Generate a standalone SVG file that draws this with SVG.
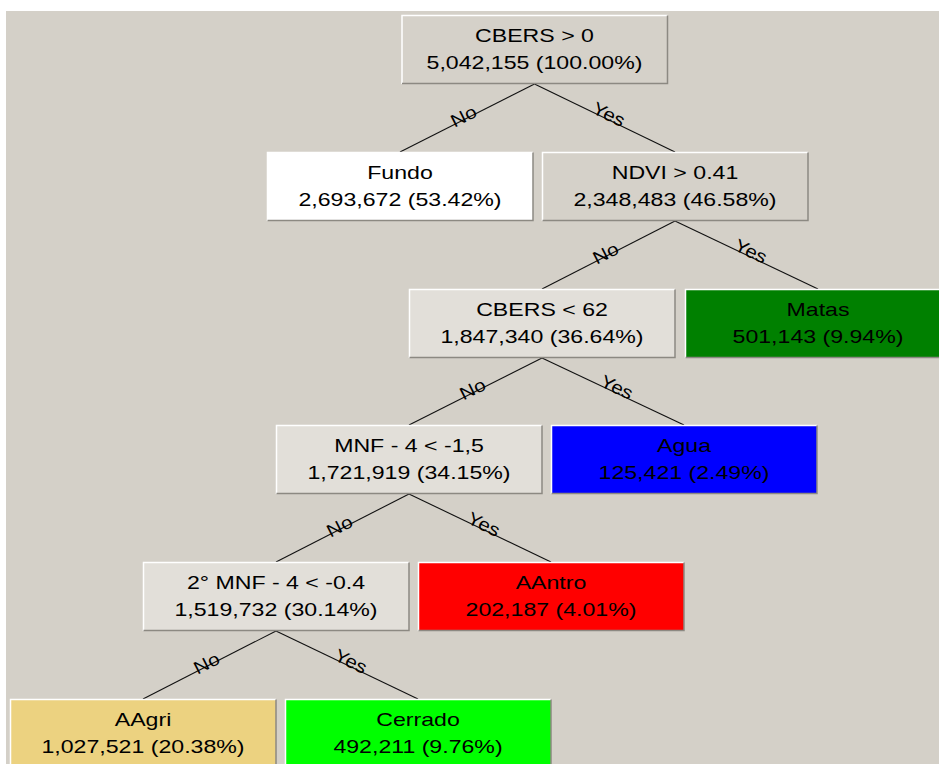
<svg xmlns="http://www.w3.org/2000/svg" width="939" height="764" viewBox="0 0 939 764">
<defs>
<style>
.bg{fill:#d4d0c8}
.split{fill:#d5d1c9}
.sel{fill:#e2dfd9}
.hl{fill:none;stroke:#ffffff;stroke-width:1.5}
.sh{fill:none;stroke:#8c8982;stroke-width:1.5}
.t{font-family:"Liberation Sans",Arial,Helvetica,sans-serif;font-size:18.5px;fill:#000;text-anchor:middle}
.lbl{font-family:"Liberation Sans",Arial,Helvetica,sans-serif;font-size:18px;fill:#000;text-anchor:middle}
.edge{stroke:#111;stroke-width:1.1;fill:none}
</style>
</defs>
<rect x="0" y="0" width="939" height="764" fill="#ffffff"/>
<rect class="bg" x="6" y="11" width="933" height="753"/>

<g id="connectors">
<path class="edge" d="M534.5,84 L400,152"/>
<path class="edge" d="M534.5,84 L675,152"/>
<path class="edge" d="M675,221 L542,289"/>
<path class="edge" d="M675,221 L818,289"/>
<path class="edge" d="M542,358 L409,425"/>
<path class="edge" d="M542,358 L684,425"/>
<path class="edge" d="M409,494 L276,562"/>
<path class="edge" d="M409,494 L551,562"/>
<path class="edge" d="M276,631 L143,699"/>
<path class="edge" d="M276,631 L418,699"/>
<text class="lbl" transform="translate(465,119) rotate(-26.8) scale(1.15,1)" y="3">No</text>
<text class="lbl" transform="translate(607,118) rotate(25.8) scale(1.15,1)" y="2">Yes</text>
<text class="lbl" transform="translate(607,256) rotate(-27.3) scale(1.15,1)" y="3">No</text>
<text class="lbl" transform="translate(749,255) rotate(25.3) scale(1.15,1)" y="2">Yes</text>
<text class="lbl" transform="translate(474,392) rotate(-26.7) scale(1.15,1)" y="3">No</text>
<text class="lbl" transform="translate(615,391) rotate(25.3) scale(1.15,1)" y="2">Yes</text>
<text class="lbl" transform="translate(341,529) rotate(-27.1) scale(1.15,1)" y="3">No</text>
<text class="lbl" transform="translate(482,528) rotate(25.6) scale(1.15,1)" y="2">Yes</text>
<text class="lbl" transform="translate(208,666) rotate(-26.9) scale(1.15,1)" y="3">No</text>
<text class="lbl" transform="translate(349,665) rotate(25.6) scale(1.15,1)" y="2">Yes</text>
</g>

<g id="root">
<rect class="split" x="401.5" y="15" width="266" height="69"/>
<path class="hl" d="M402,84 V15.5 H667.5"/><path class="sh" d="M667.5,15.5 V83.5 H402"/>
<text class="t" transform="translate(534.5,42) scale(1.25,1)">CBERS &gt; 0</text>
<text class="t" transform="translate(534.5,69) scale(1.25,1)">5,042,155 (100.00%)</text>
</g>

<g id="fundo">
<rect x="267" y="152" width="266" height="69" fill="#ffffff"/>
<path class="hl" d="M267.5,221 V152.5 H533"/><path class="sh" d="M533,152.5 V220.5 H267.5"/>
<text class="t" transform="translate(400,179) scale(1.25,1)">Fundo</text>
<text class="t" transform="translate(400,206) scale(1.25,1)">2,693,672 (53.42%)</text>
</g>

<g id="ndvi">
<rect class="split" x="542" y="152" width="266" height="69"/>
<path class="hl" d="M542.5,221 V152.5 H808"/><path class="sh" d="M808,152.5 V220.5 H542.5"/>
<text class="t" transform="translate(675,179) scale(1.25,1)">NDVI &gt; 0.41</text>
<text class="t" transform="translate(675,206) scale(1.25,1)">2,348,483 (46.58%)</text>
</g>

<g id="cbers62">
<rect class="sel" x="409" y="289" width="266" height="69"/>
<path class="hl" d="M409.5,358 V289.5 H675"/><path class="sh" d="M675,289.5 V357.5 H409.5"/>
<text class="t" transform="translate(542,316) scale(1.25,1)">CBERS &lt; 62</text>
<text class="t" transform="translate(542,343) scale(1.25,1)">1,847,340 (36.64%)</text>
</g>

<g id="matas">
<rect x="685" y="289" width="266" height="69" fill="#008000"/>
<path class="hl" d="M685.5,358 V289.5 H951"/><path class="sh" d="M951,289.5 V357.5 H685.5"/>
<text class="t" transform="translate(818,316) scale(1.25,1)">Matas</text>
<text class="t" transform="translate(818,343) scale(1.25,1)">501,143 (9.94%)</text>
</g>

<g id="mnf">
<rect class="sel" x="276" y="425" width="266" height="69"/>
<path class="hl" d="M276.5,494 V425.5 H542"/><path class="sh" d="M542,425.5 V493.5 H276.5"/>
<text class="t" transform="translate(409,452) scale(1.25,1)">MNF - 4 &lt; -1,5</text>
<text class="t" transform="translate(409,479) scale(1.25,1)">1,721,919 (34.15%)</text>
</g>

<g id="agua">
<rect x="551" y="425" width="266" height="69" fill="#0000ff"/>
<path class="hl" d="M551.5,494 V425.5 H817"/><path class="sh" d="M817,425.5 V493.5 H551.5"/>
<text class="t" transform="translate(684,452) scale(1.25,1)">Agua</text>
<text class="t" transform="translate(684,479) scale(1.25,1)">125,421 (2.49%)</text>
</g>

<g id="mnf2">
<rect class="sel" x="143" y="562" width="266" height="69"/>
<path class="hl" d="M143.5,631 V562.5 H409"/><path class="sh" d="M409,562.5 V630.5 H143.5"/>
<text class="t" transform="translate(276,589) scale(1.25,1)">2° MNF - 4 &lt; -0.4</text>
<text class="t" transform="translate(276,616) scale(1.25,1)">1,519,732 (30.14%)</text>
</g>

<g id="aantro">
<rect x="418" y="562" width="266" height="69" fill="#ff0000"/>
<path class="hl" d="M418.5,631 V562.5 H684"/><path class="sh" d="M684,562.5 V630.5 H418.5"/>
<text class="t" transform="translate(551,589) scale(1.25,1)">AAntro</text>
<text class="t" transform="translate(551,616) scale(1.25,1)">202,187 (4.01%)</text>
</g>

<g id="aagri">
<rect x="10" y="699" width="266" height="69" fill="#ecd280"/>
<path class="hl" d="M10.5,768 V699.5 H276"/><path class="sh" d="M276,699.5 V767.5"/>
<text class="t" transform="translate(143,726) scale(1.25,1)">AAgri</text>
<text class="t" transform="translate(143,753) scale(1.25,1)">1,027,521 (20.38%)</text>
</g>

<g id="cerrado">
<rect x="285" y="699" width="266" height="69" fill="#00ff00"/>
<path class="hl" d="M285.5,768 V699.5 H551"/><path class="sh" d="M551,699.5 V767.5"/>
<text class="t" transform="translate(418,726) scale(1.25,1)">Cerrado</text>
<text class="t" transform="translate(418,753) scale(1.25,1)">492,211 (9.76%)</text>
</g>
</svg>
